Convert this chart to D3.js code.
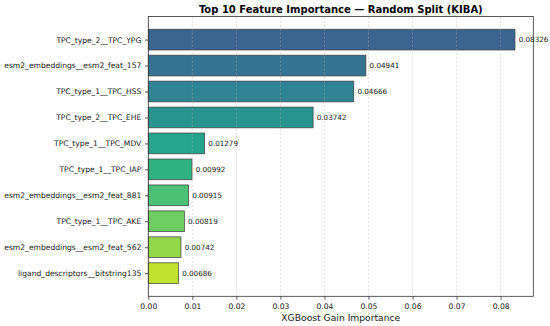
<!DOCTYPE html>
<html>
<head>
<meta charset="utf-8">
<script src="https://cdn.jsdelivr.net/npm/d3@7"></script>
<style>
  html, body { margin: 0; padding: 0; background: #fff; }
  svg { display: block; font-family: 'DejaVu Sans', sans-serif; }
</style>
</head>
<body>
<div id="chart"></div>
<script>
/* Top 10 feature importance — horizontal bar chart */

const features = [
  'TPC_type_2__TPC_YPG',
  'esm2_embeddings__esm2_feat_157',
  'TPC_type_1__TPC_HSS',
  'TPC_type_2__TPC_EHE',
  'TPC_type_1__TPC_MDV',
  'TPC_type_1__TPC_IAP',
  'esm2_embeddings__esm2_feat_881',
  'TPC_type_1__TPC_AKE',
  'esm2_embeddings__esm2_feat_562',
  'ligand_descriptors__bitstring135',
];
const gains = [0.08326, 0.04941, 0.04666, 0.03742, 0.01279, 0.00992, 0.00915, 0.00819, 0.00742, 0.00686];
const xTicks = [0, 0.01, 0.02, 0.03, 0.04, 0.05, 0.06, 0.07, 0.08];

const W = 550, H = 326;
const M = { top: 16.5, right: 16.7, bottom: 29.7, left: 148.3 };
const iw = W - M.left - M.right;
const ih = H - M.top - M.bottom;

const svg = d3.select('#chart').append('svg')
  .attr('width', W).attr('height', H);

const maxV = d3.max(gains);
const x = d3.scaleLinear().domain([0, maxV * 1.05]).range([0, iw]);
// matplotlib-style categorical y: bars at 0..9 with 0.8 height and 5% margins
const y = d3.scaleLinear().domain([-0.89, 9.89]).range([0, ih]);
const barH = y(0.8) - y(0);
const color = i => d3.interpolateViridis(0.3 + i * 0.6 / (features.length - 1));

const g = svg.append('g').attr('transform', `translate(${M.left},${M.top})`);

/* bars */
g.append('g').selectAll('rect')
  .data(gains)
  .join('rect')
  .attr('x', x(0))
  .attr('y', (d, i) => y(i) - barH / 2)
  .attr('width', d => x(d) - x(0))
  .attr('height', barH)
  .attr('fill', (d, i) => color(i))
  .attr('fill-opacity', 0.97)
  .attr('stroke', '#3d3d3d')
  .attr('stroke-width', 0.7);

/* grid on top, faint dashed */
g.append('g').selectAll('line')
  .data(xTicks)
  .join('line')
  .attr('x1', d => x(d)).attr('x2', d => x(d))
  .attr('y1', 0).attr('y2', ih)
  .attr('stroke', '#b0b0b0')
  .attr('stroke-opacity', 0.5)
  .attr('stroke-width', 0.7)
  .attr('stroke-dasharray', '2.5,1.5');

/* value labels */
g.append('g').selectAll('text')
  .data(gains)
  .join('text')
  .attr('x', d => x(d + maxV * 0.01))
  .attr('y', (d, i) => y(i))
  .attr('dy', '0.35em')
  .attr('font-size', '7.2px')
  .attr('fill', '#222')
  .text(d => d.toFixed(5));

/* axes */
const xAxis = g.append('g')
  .attr('transform', `translate(0,${ih})`)
  .call(d3.axisBottom(x).tickValues(xTicks).tickFormat(d3.format('.2f')).tickSize(3.5).tickPadding(3.5));
const yAxis = g.append('g')
  .call(d3.axisLeft(y).tickValues(d3.range(features.length)).tickFormat(i => features[i]).tickSize(3.5).tickPadding(3.5));

[xAxis, yAxis].forEach(ax => {
  ax.select('.domain').remove();
  ax.selectAll('text').attr('font-size', '7.6px').attr('fill', '#222')
    .attr('font-family', "'DejaVu Sans', sans-serif");
  ax.selectAll('line').attr('stroke', '#333').attr('stroke-width', 0.8);
});

/* frame */
g.append('rect')
  .attr('width', iw).attr('height', ih)
  .attr('fill', 'none')
  .attr('stroke', '#333')
  .attr('stroke-width', 0.8);

/* title + axis label */
svg.append('text')
  .attr('x', M.left + iw / 2).attr('y', 13)
  .attr('text-anchor', 'middle')
  .attr('font-size', '10px')
  .attr('font-weight', 'bold')
  .text('Top 10 Feature Importance — Random Split (KIBA)');

svg.append('text')
  .attr('x', M.left + iw / 2).attr('y', H - 5.5)
  .attr('text-anchor', 'middle')
  .attr('font-size', '9.2px')
  .attr('fill', '#222')
  .text('XGBoost Gain Importance');
</script>
</body>
</html>
